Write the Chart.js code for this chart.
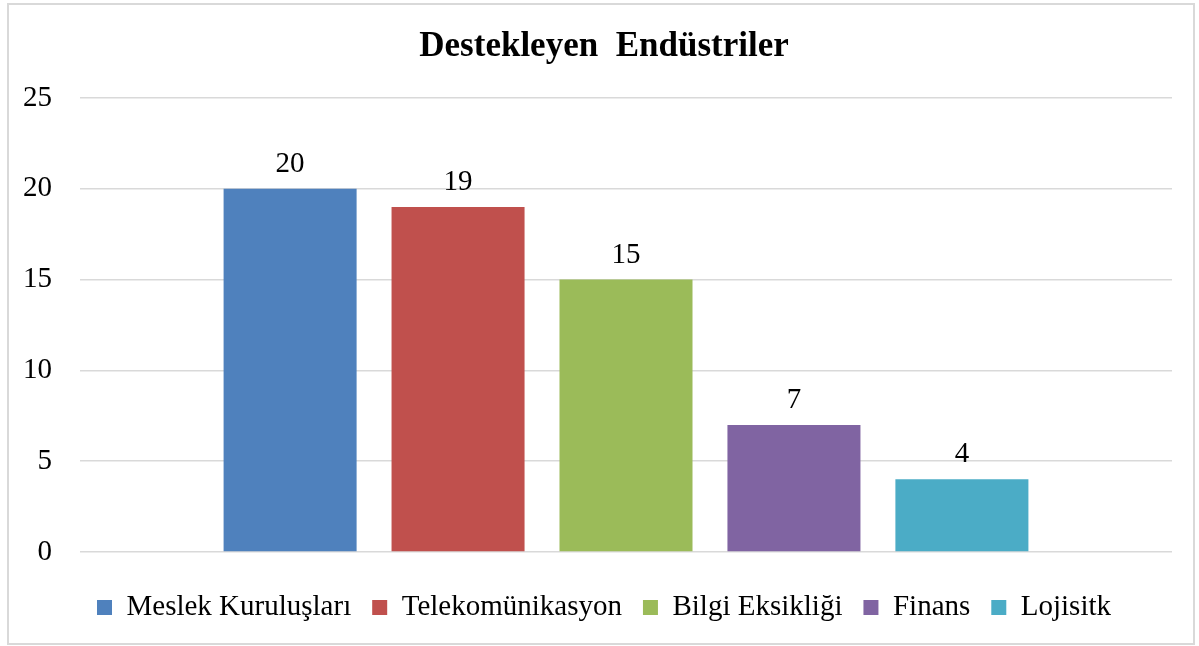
<!DOCTYPE html>
<html>
<head>
<meta charset="utf-8">
<script src="https://cdn.jsdelivr.net/npm/chart.js@4.4.0/dist/chart.umd.min.js"></script>
<style>
  html, body { margin: 0; padding: 0; background: #fff; }
  #frame {
    position: absolute; left: 7px; top: 3px;
    width: 1184px; height: 638px;
    border: 2px solid #d9d9d9;
  }
  canvas { display: block; }
</style>
</head>
<body>
<div id="frame"><canvas id="indChart" width="1184" height="638"></canvas></div>
<script>
const categories = [''];
const seriesNames = ['Meslek Kuruluşları', 'Telekomünikasyon', 'Bilgi Eksikliği', 'Finans', 'Lojisitk'];
const seriesValues = [20, 19, 15, 7, 4];
const seriesColors = ['#4F81BD', '#C0504D', '#9BBB59', '#8064A2', '#4BACC6'];
const yTicks = [0, 5, 10, 15, 20, 25];

const serif = '"Liberation Serif", "Times New Roman", serif';

// draws the value above every bar
const valueLabels = {
  id: 'valueLabels',
  afterDatasetsDraw(chart) {
    const ctx = chart.ctx;
    ctx.save();
    ctx.font = '29px ' + serif;
    ctx.fillStyle = '#000';
    ctx.textAlign = 'center';
    ctx.textBaseline = 'alphabetic';
    chart.data.datasets.forEach((ds, i) => {
      const meta = chart.getDatasetMeta(i);
      meta.data.forEach((bar, j) => {
        ctx.fillText(String(ds.data[j]), bar.x, bar.y - 17);
      });
    });
    ctx.restore();
  }
};

const ctx = document.getElementById('indChart').getContext('2d');
new Chart(ctx, {
  type: 'bar',
  data: {
    labels: categories,
    datasets: seriesNames.map((name, i) => ({
      label: name,
      data: [seriesValues[i]],
      backgroundColor: seriesColors[i],
      borderWidth: 0,
      categoryPercentage: 0.769,
      barPercentage: 0.792
    }))
  },
  options: {
    responsive: false,
    animation: false,
    layout: { padding: { left: 13, right: 7, top: 21, bottom: 11 } },
    plugins: {
      title: {
        display: true,
        text: 'Destekleyen  Endüstriler',
        color: '#000',
        font: { family: serif, size: 35, weight: 'bold' },
        padding: { top: 0, bottom: 30 }
      },
      legend: {
        position: 'bottom',
        labels: {
          color: '#000',
          font: { family: serif, size: 29 },
          boxWidth: 15,
          boxHeight: 15,
          padding: 21
        }
      },
      tooltip: { enabled: false }
    },
    scales: {
      x: {
        afterFit: axis => { axis.height = 20; },
        grid: { display: false, drawTicks: false },
        border: { display: false },
        ticks: { display: false }
      },
      y: {
        min: 0,
        max: 25,
        afterBuildTicks: axis => { axis.ticks = yTicks.map(v => ({ value: v })); },
        afterFit: axis => { axis.width = 58; },
        grid: { color: '#d9d9d9', lineWidth: 1.5, drawTicks: false },
        border: { display: false },
        ticks: {
          color: '#000',
          font: { family: serif, size: 29 },
          padding: 28
        }
      },
      // empty right-hand spacer so the plot ends where the original does
      y2: {
        position: 'right',
        afterFit: axis => { axis.width = 14; },
        grid: { display: false, drawTicks: false },
        border: { display: false },
        ticks: { display: false }
      }
    }
  },
  plugins: [valueLabels]
});
</script>
</body>
</html>
